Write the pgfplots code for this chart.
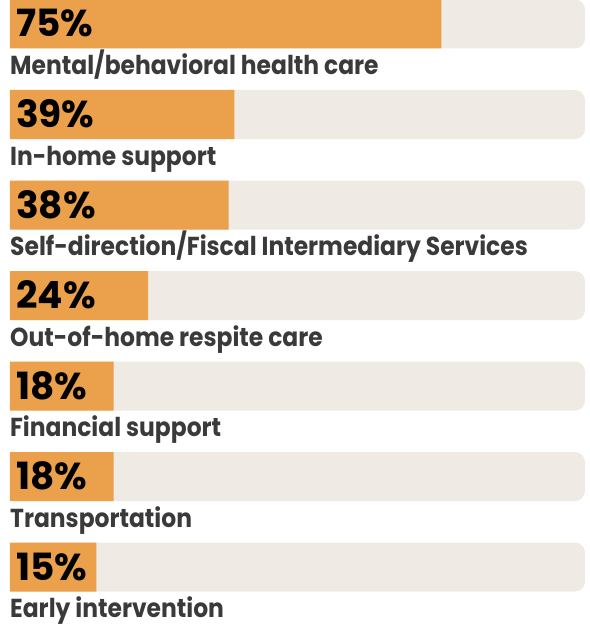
\documentclass[border=0pt]{standalone}
\usepackage{pgfplots}
\pgfplotsset{compat=1.18}
\usepackage{pgfplotstable}
\usepackage{fontspec}
\setmainfont{Poppins}
\newfontfamily\labelfont{Poppins}[FakeStretch=0.9]
\definecolor{barorange}{HTML}{EBA04C}
\definecolor{bargray}{HTML}{EFEAE4}
\definecolor{labelgray}{HTML}{3A3A3A}
\pgfplotstableread[col sep=comma]{
y,value,label
24,75,Mental/behavioral health care
114.5,39,In-home support
205,38,Self-direction/Fiscal Intermediary Services
295.5,24,Out-of-home respite care
386,18,Financial support
476.5,18,Transportation
567,15,Early intervention
}\data
\begin{document}
\begin{tikzpicture}
\begin{axis}[
  width=590bp, height=626bp, scale only axis,
  xmin=-1.7391, xmax=100.8696, ymin=0, ymax=626, y dir=reverse,
  hide axis, clip=false,
  /pgf/number format/assume math mode=true,
]
\addplot[xbar, bar shift=0pt, bar width=49, fill=bargray, draw=none, rounded corners=10bp]
  table[x expr=100, y=y] {\data};
\addplot[xbar, bar shift=0pt, bar width=49, fill=barorange, draw=none]
  table[x=value, y=y] {\data};
\addplot[only marks, mark=none, point meta=explicit,
  nodes near coords={\pgfmathprintnumber{\pgfplotspointmeta}\%},
  nodes near coords style={anchor=base west, inner sep=0pt, font=\fontsize{37.5bp}{40bp}\selectfont\bfseries, text=black}]
  table[x expr=1.05, y expr=\thisrow{y}+13, meta=value] {\data};
\addplot[only marks, mark=none, point meta=explicit symbolic,
  nodes near coords,
  nodes near coords style={anchor=base west, inner sep=0pt, font=\fontsize{26bp}{28bp}\labelfont\bfseries, text=labelgray}]
  table[x expr=0, y expr=\thisrow{y}+50.5, meta=label] {\data};
\end{axis}
\pgfresetboundingbox
\path (current axis.south west) rectangle (current axis.north east);
\end{tikzpicture}
\end{document}
